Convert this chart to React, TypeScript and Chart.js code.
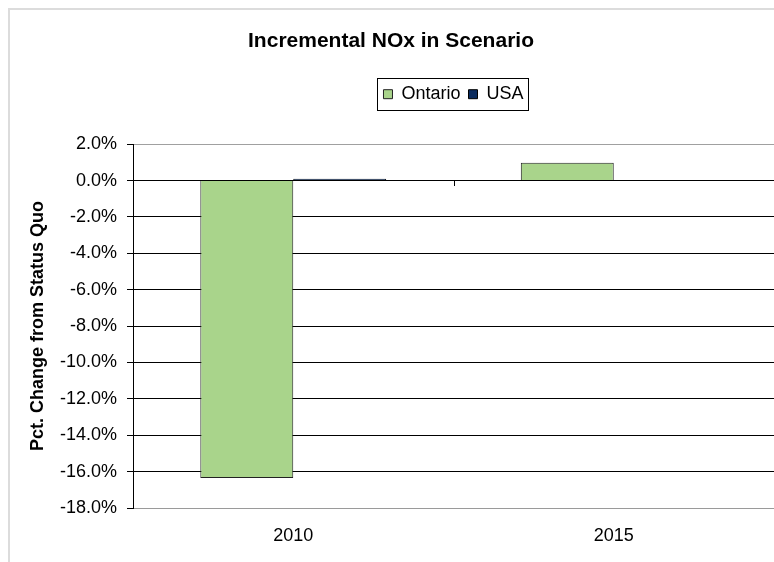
import React, { useEffect, useRef } from "react";
import { Chart, registerables } from "chart.js";

Chart.register(...registerables);

// ---- data ----
const categories = ["2010", "2015"];
const seriesNames = ["Ontario", "USA"];
const ontarioValues = [-16.35, 0.98];
const usaValues = [0.1, 0.0];
const yMin = -18;
const yMax = 2;
const yStep = 2;
const chartTitle = "Incremental NOx in Scenario";
const yAxisTitle = "Pct. Change from Status Quo";

const FONT = "'Liberation Sans', Arial, Helvetica, sans-serif";
const GREEN = "#a9d48b";
const NAVY = "#0b2b5e";

const framePlugin = {
  id: "frame",
  beforeDraw(chart: any) {
    const { ctx, width, height } = chart;
    ctx.save();
    ctx.fillStyle = "#ffffff";
    ctx.fillRect(0, 0, width, height);
    ctx.fillStyle = "#dcdcdc";
    ctx.fillRect(0, 0, width, 2);
    ctx.fillRect(0, 0, 2, height);
    ctx.restore();
  },
};

const legendBorderPlugin = {
  id: "legendBorder",
  afterDraw(chart: any) {
    const lg = chart.legend;
    if (!lg || !lg.legendHitBoxes || !lg.legendHitBoxes.length) return;
    const hbs = lg.legendHitBoxes;
    const first = hbs[0];
    const last = hbs[hbs.length - 1];
    const cy = first.top + first.height / 2;
    const x1 = Math.round(first.left - 6) + 0.5;
    const x2 = Math.round(last.left + last.width + 4) + 0.5;
    const y1 = Math.round(cy - 16) + 0.5;
    const y2 = Math.round(cy + 16) + 0.5;
    const { ctx } = chart;
    ctx.save();
    ctx.strokeStyle = "#000";
    ctx.lineWidth = 1;
    ctx.strokeRect(x1, y1, x2 - x1, y2 - y1);
    ctx.restore();
  },
};

const zeroTickPlugin = {
  id: "zeroTicks",
  afterDatasetsDraw(chart: any) {
    const xs = chart.scales.x;
    const ys = chart.scales.y;
    const y0 = Math.round(ys.getPixelForValue(0));
    const { ctx } = chart;
    ctx.save();
    ctx.strokeStyle = "#000";
    ctx.lineWidth = 1;
    for (let i = 1; i < categories.length; i++) {
      const x = Math.round((xs.getPixelForValue(i - 1) + xs.getPixelForValue(i)) / 2) + 0.5;
      ctx.beginPath();
      ctx.moveTo(x, y0);
      ctx.lineTo(x, y0 + 5);
      ctx.stroke();
    }
    ctx.restore();
  },
};

export default function App() {
  const canvasRef = useRef<HTMLCanvasElement | null>(null);

  useEffect(() => {
    if (!canvasRef.current) return;
    const isEdge = (v: number) => Math.abs(v - yMax) < 1e-6 || Math.abs(v - yMin) < 1e-6;
    const chart = new Chart(canvasRef.current, {
      type: "bar",
      data: {
        labels: categories,
        datasets: [
          {
            label: seriesNames[0],
            data: ontarioValues,
            backgroundColor: GREEN,
            borderColor: "#222222",
            borderWidth: 1,
            categoryPercentage: 0.58,
            barPercentage: 1,
          },
          {
            label: seriesNames[1],
            data: usaValues,
            backgroundColor: NAVY,
            borderColor: "#000000",
            borderWidth: 1,
            categoryPercentage: 0.58,
            barPercentage: 1,
          },
        ],
      },
      options: {
        responsive: false,
        animation: false,
        devicePixelRatio: 1,
        layout: { padding: 0 },
        plugins: {
          title: {
            display: true,
            text: chartTitle,
            color: "#000",
            font: { family: FONT, size: 21, weight: "bold" },
            padding: { top: 21, bottom: 23 },
          },
          legend: {
            display: true,
            position: "top",
            fullSize: false,
            labels: {
              color: "#000",
              font: { family: FONT, size: 18 },
              boxWidth: 9,
              boxHeight: 9,
              padding: 8,
            },
          },
          subtitle: {
            display: true,
            text: "",
            weight: 500,
            font: { family: FONT, size: 10 },
            padding: { top: 19, bottom: 0 },
          },
          tooltip: { enabled: false },
        },
        scales: {
          x: {
            grid: { display: false, drawTicks: false },
            border: { display: true, color: "#9a9a9a" },
            ticks: {
              color: "#000",
              font: { family: FONT, size: 18 },
              padding: 17,
            },
            afterFit(scale: any) {
              scale.height = 54;
            },
          },
          y: {
            min: yMin,
            max: yMax,
            ticks: {
              stepSize: yStep,
              color: "#000",
              font: { family: FONT, size: 18 },
              padding: 10,
              callback: (v: any) => Number(v).toFixed(1) + "%",
            },
            grid: {
              color: (ctx: any) => (ctx.tick && isEdge(ctx.tick.value) ? "#a0a0a0" : "#000000"),
              tickColor: "#000000",
              tickLength: 6,
              lineWidth: 1,
            },
            border: { display: true, color: "#000" },
            title: {
              display: true,
              text: yAxisTitle,
              color: "#000",
              font: { family: FONT, size: 18, weight: "bold" },
              padding: { top: 19, bottom: 0 },
            },
            afterFit(scale: any) {
              scale.width = 125;
            },
          },
        },
      },
      plugins: [framePlugin, legendBorderPlugin, zeroTickPlugin],
    } as any);
    return () => chart.destroy();
  }, []);

  return (
    <div style={{ position: "fixed", left: 8, top: 8, width: 766, height: 554 }}>
      <canvas ref={canvasRef} width={766} height={554} style={{ display: "block" }} />
    </div>
  );
}
